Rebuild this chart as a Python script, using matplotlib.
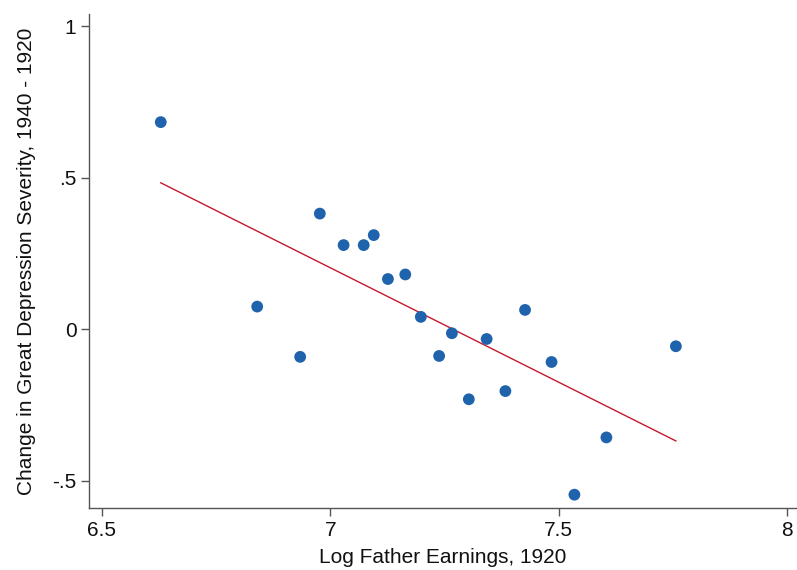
import numpy as np
import matplotlib
matplotlib.use("Agg")
import matplotlib.pyplot as plt

plt.rcParams['font.family'] = ['Liberation Sans', 'DejaVu Sans']

# Log father earnings (1920) and change in Great Depression severity (1940 - 1920)
log_father_earnings = [6.629, 6.840, 6.934, 6.977, 7.029, 7.073, 7.095, 7.126,
                       7.164, 7.198, 7.238, 7.266, 7.303, 7.342, 7.383, 7.426,
                       7.484, 7.534, 7.604, 7.756]
severity_change = [0.684, 0.075, -0.091, 0.382, 0.278, 0.278, 0.311, 0.166,
                   0.181, 0.041, -0.088, -0.013, -0.231, -0.032, -0.204, 0.064,
                   -0.108, -0.546, -0.357, -0.056]

x_ticks = [6.5, 7, 7.5, 8]
x_tick_labels = ["6.5", "7", "7.5", "8"]
y_ticks = [-0.5, 0, 0.5, 1]
y_tick_labels = ["-.5", "0", ".5", "1"]

x = np.array(log_father_earnings)
y = np.array(severity_change)
slope, intercept = np.polyfit(x, y, 1)
fit_x = np.array([x.min(), x.max()])
fit_y = intercept + slope * fit_x

fig = plt.figure(figsize=(7.97, 5.70), dpi=100)
ax = fig.add_axes([89 / 797, 1 - 508 / 570, (797 - 89) / 797, (508 - 14) / 570])

ax.scatter(x, y, s=72, color="#1f63ac", edgecolors="none", zorder=3)
ax.plot(fit_x, fit_y, color="#c4182f", lw=1.0, zorder=2)

ax.set_xlim(6.472, 8.021)
ax.set_ylim(-0.590, 1.041)

ax.set_xticks(x_ticks)
ax.set_xticklabels(x_tick_labels)
ax.set_yticks(y_ticks)
ax.set_yticklabels(y_tick_labels)

for side in ("top", "right"):
    ax.spines[side].set_visible(False)
for side in ("left", "bottom"):
    ax.spines[side].set_color("#555555")
    ax.spines[side].set_linewidth(1.0)

ax.tick_params(axis="both", length=6, width=1.0, color="#555555",
               labelsize=15, labelcolor="#111111", pad=3)

ax.set_xlabel("Log Father Earnings, 1920", fontsize=15, color="#111111", labelpad=6)
ax.set_ylabel("Change in Great Depression Severity, 1940 - 1920", fontsize=15,
              color="#111111", labelpad=12)

fig.savefig("out.png", dpi=100, facecolor="white")
